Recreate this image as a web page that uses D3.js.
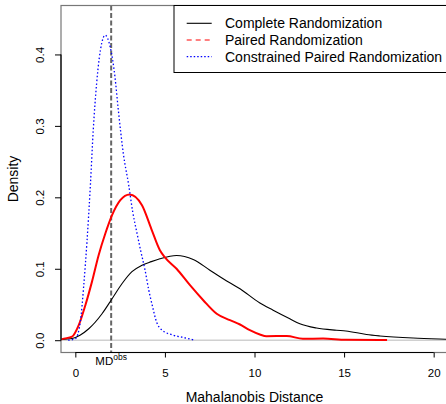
<!DOCTYPE html>
<html>
<head>
<meta charset="utf-8">
<script src="https://cdn.jsdelivr.net/npm/d3@7"></script>
<style>
  body { margin: 0; background: #fff; }
  svg { display: block; font-family: "Liberation Sans", Arial, sans-serif; }
</style>
</head>
<body>
<script>
// density estimates: [distance, density]
var completeRand = [[-0.84,0.001],[-0.18,0.0024],[0.26,0.007],[0.75,0.016],[1.49,0.037],[2.05,0.058],
  [2.6,0.079],[3.16,0.096],[3.72,0.105],[4.24,0.110],[4.72,0.114],[5.65,0.1186],[6.58,0.113],
  [7.51,0.098],[8.25,0.086],[9.19,0.072],[10.3,0.052],[11.04,0.042],[11.97,0.030],[12.53,0.023],
  [13.46,0.017],[14.58,0.014],[15.1,0.013],[16.25,0.008],[17.0,0.006],[18.85,0.003],[20.67,0.0014],[21.5,0.0008]];

var pairedRand = [[-0.84,0.0005],[-0.74,0.0015],[-0.18,0.005],[0.19,0.021],[0.56,0.049],[0.93,0.082],
  [1.30,0.119],[1.67,0.149],[2.05,0.175],[2.51,0.196],[3.03,0.204],[3.72,0.189],[4.24,0.156],
  [4.72,0.126],[5.0,0.116],[5.65,0.100],[6.4,0.077],[7.14,0.056],[7.89,0.037],[8.63,0.028],
  [9.19,0.022],[9.74,0.014],[10.3,0.008],[10.67,0.0056],[11.8,0.006],[12.7,0.002],[13.83,0.0024],
  [15.1,0.0005],[17.4,0.0003]];

var constrainedRand = [[-0.4,0.0],[0.0,0.002],[0.28,0.026],[0.47,0.077],[0.65,0.138],[0.84,0.217],
  [1.0,0.294],[1.19,0.36],[1.47,0.4155],[1.66,0.427],[1.94,0.411],[2.21,0.369],[2.4,0.322],
  [2.68,0.261],[2.98,0.217],[3.2,0.18],[3.44,0.150],[3.65,0.125],[3.9,0.097],[4.1,0.070],
  [4.3,0.048],[4.54,0.025],[4.8,0.015],[5.47,0.007],[6.0,0.004],[6.58,0.0005]];

var mdObs = 2;
var xTicks = [0, 5, 10, 15, 20];
var yTicks = [0, 0.1, 0.2, 0.3, 0.4];
var legendLabels = ['Complete Randomization', 'Paired Randomization', 'Constrained Paired Randomization'];

var W = 446, H = 404;
var pLeft = 61, pRight = 448, pTop = 5.5, pBottom = 352.5;
var fontFam = '"Liberation Sans", Arial, sans-serif';

var svg = d3.select('body').append('svg')
    .attr('width', W)
    .attr('height', H);

var x = d3.scaleLinear().domain([-0.8, 20.8]).range([pLeft, pRight]);
var y = d3.scaleLinear().domain([-0.0172, 0.4685]).range([pBottom, pTop]);

svg.append('clipPath').attr('id', 'plotclip')
  .append('rect')
    .attr('x', pLeft).attr('y', pTop)
    .attr('width', pRight - pLeft).attr('height', pBottom - pTop);

// zero line
svg.append('line')
    .attr('x1', pLeft).attr('x2', pRight)
    .attr('y1', y(0)).attr('y2', y(0))
    .attr('stroke', '#d0d0d0')
    .attr('stroke-width', 1.5);

// observed MD
svg.append('line')
    .attr('x1', x(mdObs)).attr('x2', x(mdObs))
    .attr('y1', pTop).attr('y2', pBottom)
    .attr('stroke', '#666')
    .attr('stroke-width', 2)
    .attr('stroke-dasharray', '5,2.5');

var line = d3.line()
    .x(function(d) { return x(d[0]); })
    .y(function(d) { return y(d[1]); })
    .curve(d3.curveMonotoneX);

var curves = svg.append('g').attr('clip-path', 'url(#plotclip)');

curves.append('path')
    .datum(completeRand)
    .attr('d', line)
    .attr('fill', 'none')
    .attr('stroke', '#000')
    .attr('stroke-width', 1.1);

curves.append('path')
    .datum(pairedRand)
    .attr('d', line)
    .attr('fill', 'none')
    .attr('stroke', '#ff0000')
    .attr('stroke-width', 2);

curves.append('path')
    .datum(constrainedRand)
    .attr('d', line)
    .attr('fill', 'none')
    .attr('stroke', '#0000ff')
    .attr('stroke-width', 1.3)
    .attr('stroke-dasharray', '1.5,2.2');

// box
svg.append('rect')
    .attr('x', pLeft).attr('y', pTop)
    .attr('width', pRight - pLeft).attr('height', pBottom - pTop)
    .attr('fill', 'none')
    .attr('stroke', '#777')
    .attr('stroke-width', 1.2);

// x axis
var gx = svg.append('g')
    .attr('transform', 'translate(0,' + pBottom + ')')
    .call(d3.axisBottom(x).tickValues(xTicks).tickSize(5).tickFormat(d3.format('d')));
gx.select('.domain').remove();
gx.append('line')
    .attr('x1', x(xTicks[0])).attr('x2', x(xTicks[xTicks.length - 1]))
    .attr('stroke', '#000').attr('stroke-width', 1.2);
gx.selectAll('.tick line').attr('stroke', '#000');
gx.selectAll('.tick text')
    .attr('y', 24.2).attr('dy', null)
    .attr('fill', '#000')
    .attr('font-size', 11.5)
    .attr('font-family', fontFam);

// y axis
var gy = svg.append('g')
    .attr('transform', 'translate(' + pLeft + ',0)')
    .call(d3.axisLeft(y).tickValues(yTicks).tickSize(6).tickFormat(d3.format('.1f')));
gy.select('.domain').remove();
gy.append('line')
    .attr('y1', y(yTicks[0])).attr('y2', y(yTicks[yTicks.length - 1]))
    .attr('stroke', '#000').attr('stroke-width', 1.2);
gy.selectAll('.tick line').attr('stroke', '#000');
gy.selectAll('.tick text')
    .attr('x', null).attr('dy', null)
    .attr('text-anchor', 'middle')
    .attr('transform', 'translate(-16.7,0) rotate(-90)')
    .attr('fill', '#000')
    .attr('font-size', 11.5)
    .attr('font-family', fontFam);

// MD obs label
var md = svg.append('text')
    .attr('x', x(mdObs))
    .attr('y', 365)
    .attr('text-anchor', 'middle')
    .style('font-size', '11.5px');
md.append('tspan').text('MD');
md.append('tspan').attr('dy', -5.5).style('font-size', '8.5px').text('obs');

// axis titles
svg.append('text')
    .attr('x', (pLeft + pRight) / 2)
    .attr('y', 402)
    .attr('text-anchor', 'middle')
    .style('font-size', '14px')
    .text('Mahalanobis Distance');

svg.append('text')
    .attr('transform', 'translate(18,' + ((pTop + pBottom) / 2) + ') rotate(-90)')
    .attr('text-anchor', 'middle')
    .style('font-size', '14px')
    .text('Density');

// legend
var legend = svg.append('g');
legend.append('rect')
    .attr('x', 174).attr('y', pTop)
    .attr('width', 290).attr('height', 67)
    .attr('fill', '#fff')
    .attr('stroke', '#000')
    .attr('stroke-width', 1);

var legendStyles = [
  { color: '#000', dash: null, w: 1.1 },
  { color: '#ff0000', dash: '5,4', w: 1 },
  { color: '#0000ff', dash: '1.5,2', w: 1.2 }
];
var rowY = [23.3, 40, 56.7];

legend.selectAll('line.key')
    .data(legendLabels)
    .enter().append('line')
    .attr('class', 'key')
    .attr('x1', 186.7).attr('x2', 211.7)
    .attr('y1', function(d, i) { return rowY[i]; })
    .attr('y2', function(d, i) { return rowY[i]; })
    .attr('stroke', function(d, i) { return legendStyles[i].color; })
    .attr('stroke-width', function(d, i) { return legendStyles[i].w; })
    .attr('stroke-dasharray', function(d, i) { return legendStyles[i].dash; });

legend.selectAll('text')
    .data(legendLabels)
    .enter().append('text')
    .attr('x', 225)
    .attr('y', function(d, i) { return rowY[i] + 5; })
    .style('font-size', '14px')
    .text(function(d) { return d; });
</script>
</body>
</html>
